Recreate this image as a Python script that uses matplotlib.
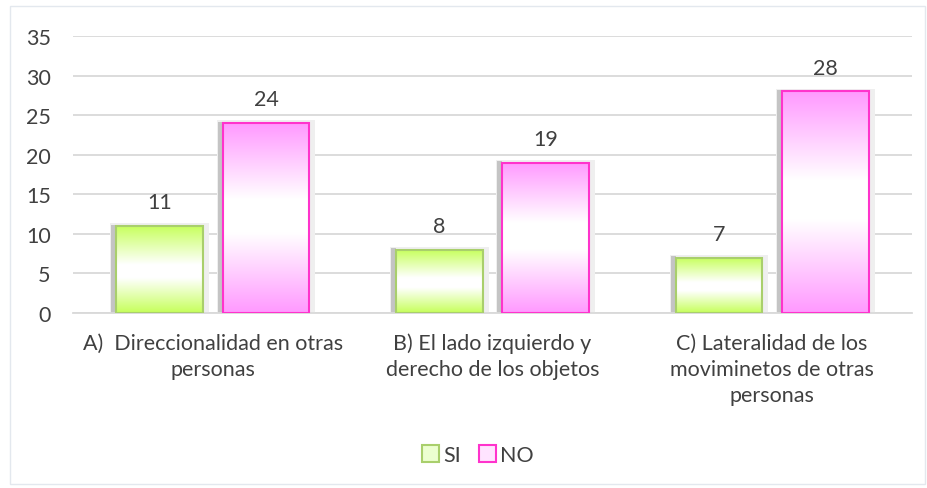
import numpy as np
import matplotlib
matplotlib.use("Agg")
import matplotlib.pyplot as plt
from matplotlib.colors import LinearSegmentedColormap
from matplotlib.patches import Rectangle, Patch

plt.rcParams['font.family'] = ['Lato', 'DejaVu Sans']

# datos
categorias = ['A)  Direccionalidad en otras\npersonas',
              'B) El lado izquierdo y\nderecho de los objetos',
              'C) Lateralidad de los\nmoviminetos de otras\npersonas']
si = [11, 8, 7]
no = [24, 19, 28]
series = ['SI', 'NO']

texto = '#404040'
fs = 15.5

fig = plt.figure(figsize=(9.27, 4.89), dpi=100)
ax = fig.add_axes([73 / 927, 1 - 314 / 489, (912 - 73) / 927, (314 - 37) / 489])

# marco exterior del grafico
fig.patches.append(Rectangle((10 / 927, 4 / 489), 915 / 927, 478 / 489,
                             transform=fig.transFigure, fill=False,
                             edgecolor='#e3e8ee', linewidth=1))

cm_si = LinearSegmentedColormap.from_list('si', [(0, '#c6ff5a'), (0.45, '#ffffff'),
                                                 (0.6, '#ffffff'), (1, '#c6ff5a')])
cm_no = LinearSegmentedColormap.from_list('no', [(0, '#ff99ff'), (0.4, '#ffffff'),
                                                 (0.58, '#ffffff'), (1, '#ff99ff')])
grad = np.linspace(0, 1, 256).reshape(-1, 1)

ancho = 0.31
desp = 0.19
px = 1 / 279.7  # un pixel en unidades de categoria


def barra(x, h, cmap, borde):
    x0 = x - ancho / 2
    # sombra
    ax.add_patch(Rectangle((x0 - 6 * px, 0), ancho + 12 * px, h + 0.35,
                           facecolor='#efefef', edgecolor='none', zorder=2))
    ax.add_patch(Rectangle((x0 - 5 * px, 0), 5 * px, h + 0.15,
                           facecolor='#c4c4c4', edgecolor='none', zorder=2))
    rect = Rectangle((x0, 0), ancho, h, facecolor='none', edgecolor=borde,
                     linewidth=1.5, zorder=4)
    ax.add_patch(rect)
    im = ax.imshow(grad, extent=[x0, x0 + ancho, 0, h], aspect='auto',
                   cmap=cmap, origin='upper', zorder=3)
    im.set_clip_path(rect)
    ax.annotate(str(h), (x, h), xytext=(0, 10), textcoords='offset points',
                ha='center', va='bottom', fontsize=fs, color=texto)


for i in range(len(categorias)):
    barra(i - desp, si[i], cm_si, '#a9cf6c')
    barra(i + desp, no[i], cm_no, '#ff33cc')

ax.set_xlim(-0.5, 2.5)
ax.set_ylim(0, 35)
ax.set_yticks(range(0, 36, 5))
ax.set_xticks(range(len(categorias)))
ax.set_xticklabels(categorias, fontsize=fs, color=texto, linespacing=1.38)
ax.tick_params(axis='y', length=0, pad=16, labelsize=fs, labelcolor=texto)
ax.tick_params(axis='x', length=0, pad=14)
ax.grid(axis='y', color='#d9d9d9', linewidth=1.3, zorder=0)
ax.set_axisbelow(True)
for s in ['top', 'right', 'left']:
    ax.spines[s].set_visible(False)
ax.spines['bottom'].set_color('#d9d9d9')
ax.spines['bottom'].set_linewidth(1.3)

manejadores = [Patch(facecolor='#ecffd0', edgecolor='#a9cf6c', linewidth=1.5),
               Patch(facecolor='#ffe4ff', edgecolor='#ff33cc', linewidth=1.5)]
fig.legend(manejadores, series, loc='center', bbox_to_anchor=(478 / 927, 1 - 456 / 489),
           ncol=2, frameon=False, fontsize=fs, handlelength=0.8, handleheight=0.8,
           handletextpad=0.2, columnspacing=0.8, labelcolor=texto)

fig.savefig('out.png', dpi=100)
